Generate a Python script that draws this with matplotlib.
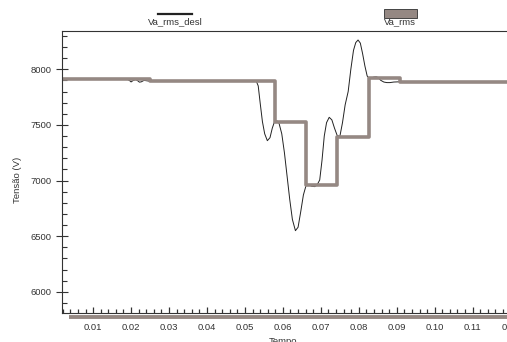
import matplotlib.pyplot as plt
from matplotlib.ticker import MultipleLocator, FormatStrFormatter
from matplotlib.lines import Line2D
from matplotlib.patches import Rectangle

plt.rcParams['font.family'] = ['Liberation Sans', 'DejaVu Sans']

# Va_rms (step curve, half-cycle rms)
t_rms = [0.0, 0.025, 0.0578, 0.0661, 0.0743, 0.0827, 0.0908, 0.125]
v_rms = [7910, 7892, 7525, 6963, 7392, 7917, 7885, 7885]

# Va_rms_desl (thin curve)
t_desl = [0.0, 0.0190, 0.0196, 0.0200, 0.0205, 0.0212, 0.0218, 0.0222, 0.0227, 0.0234, 0.0250,
          0.0530, 0.0535, 0.0540, 0.0546, 0.0552, 0.0559, 0.0566, 0.0572, 0.0578, 0.0584,
          0.0590, 0.0597, 0.0604, 0.0611, 0.0618, 0.0625, 0.0633, 0.0640, 0.0647, 0.0654,
          0.0661, 0.0668, 0.0676, 0.0684, 0.0690, 0.0697, 0.0703, 0.0709, 0.0715, 0.0722,
          0.0729, 0.0736, 0.0743, 0.0750, 0.0757, 0.0764, 0.0772, 0.0779, 0.0786, 0.0792,
          0.0798, 0.0804, 0.0810, 0.0816, 0.0822, 0.0827, 0.0833, 0.0840, 0.0846, 0.0851,
          0.0858, 0.0866, 0.0874, 0.0882, 0.0892, 0.0905, 0.125]
v_desl = [7910, 7910, 7898, 7886, 7898, 7908, 7895, 7884, 7887, 7900, 7892,
          7892, 7850, 7700, 7530, 7420, 7358, 7385, 7470, 7530, 7537,
          7512, 7420, 7250, 7040, 6830, 6650, 6549, 6580, 6720, 6870,
          6955, 6962, 6948, 6945, 6960, 7005, 7180, 7400, 7520, 7568,
          7545, 7470, 7405, 7395, 7520, 7680, 7800, 8000, 8170, 8240,
          8263, 8235, 8140, 8030, 7940, 7919, 7922, 7930, 7932, 7925,
          7900, 7885, 7880, 7880, 7885, 7887, 7887]

x_ticks = [0.01, 0.02, 0.03, 0.04, 0.05, 0.06, 0.07, 0.08, 0.09, 0.10, 0.11, 0.12]
y_ticks = [6000, 6500, 7000, 7500, 8000]

gray = '#958883'
dark = '#222222'
txt = '#333333'
fs = 6.8
W, H = 507, 342

fig = plt.figure(figsize=(5.07, 3.42), dpi=100)
ax = fig.add_axes([0.1223, 0.0848, 0.8856, 0.8246])

ax.plot(t_rms, v_rms, drawstyle='steps-post', color=gray, lw=2.6, zorder=2)
ax.plot(t_desl, v_desl, color=dark, lw=0.7, zorder=1)

ax.set_xlim(0.0018, 0.1201)
ax.set_ylim(5809, 8344)

ax.set_xticks(x_ticks)
ax.set_yticks(y_ticks)
ax.xaxis.set_major_formatter(FormatStrFormatter('%.2f'))
ax.xaxis.set_minor_locator(MultipleLocator(0.002))
ax.yaxis.set_minor_locator(MultipleLocator(100))

ax.tick_params(axis='x', which='major', direction='in', length=4.5, width=0.9,
               color=txt, labelsize=fs, labelcolor=txt, pad=7)
ax.tick_params(axis='x', which='minor', direction='in', length=3, width=0.9, color=txt)
ax.tick_params(axis='y', which='major', direction='inout', length=8, width=0.8,
               color=txt, labelsize=fs, labelcolor=txt)
ax.tick_params(axis='y', which='minor', direction='in', length=3.5, width=0.8, color=txt)
ax.tick_params(top=False, right=False, which='both')

for s in ['left', 'bottom', 'top']:
    ax.spines[s].set_linewidth(0.8)
    ax.spines[s].set_color(txt)
ax.spines['right'].set_visible(False)

# gray band under the x axis
ax.plot([0.015, 1.0], [-0.014, -0.014], transform=ax.transAxes, color=gray,
        lw=2.8, clip_on=False, solid_capstyle='butt')

fig.text(18 / W, 1 - 180 / H, 'Tensão (V)', rotation=90, fontsize=fs,
         color=txt, ha='center', va='center')
fig.text(283 / W, 1 - 341 / H, 'Tempo', fontsize=fs, color=txt,
         ha='center', va='center')

# legend above the plot: handle on top, name below
fig.add_artist(Line2D([158 / W, 192 / W], [1 - 13.5 / H, 1 - 13.5 / H],
                      color=dark, lw=1.6, transform=fig.transFigure))
fig.text(175 / W, 1 - 22 / H, 'Va_rms_desl', fontsize=fs, color=txt,
         ha='center', va='center')
fig.add_artist(Rectangle((384 / W, 1 - 17.5 / H), 33 / W, 8.5 / H, facecolor=gray,
                         edgecolor='#444444', lw=0.7, transform=fig.transFigure))
fig.text(400 / W, 1 - 22 / H, 'Va_rms', fontsize=fs, color=txt,
         ha='center', va='center')

plt.savefig('out.png', dpi=100)
